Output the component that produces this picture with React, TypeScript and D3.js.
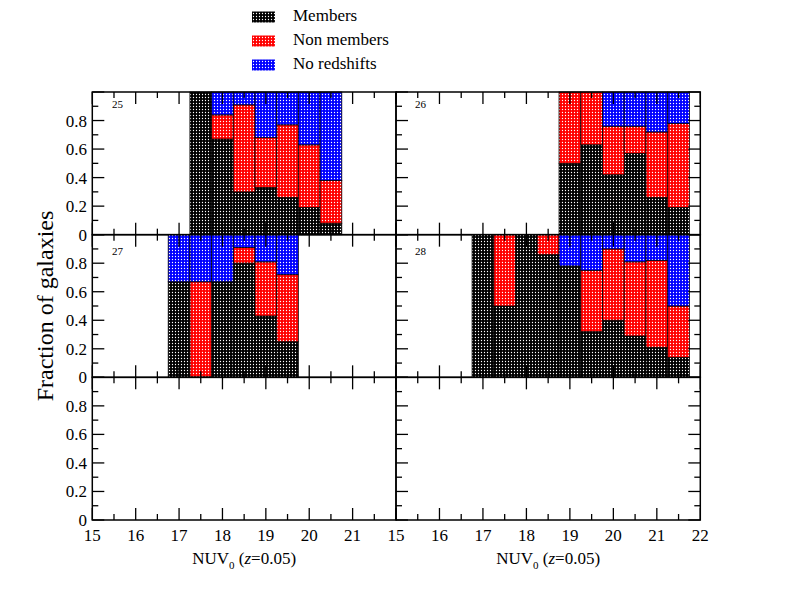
import React from 'react';
import * as d3 from 'd3';

// ---- data ----
const binWidth = 0.5;
const xTickValues = [15, 16, 17, 18, 19, 20, 21, 22];
const yTickLabels = [0, 0.2, 0.4, 0.6, 0.8];

const p25Mag = [17.5, 18, 18.5, 19, 19.5, 20, 20.5];
const p25Members = [1.0, 0.67, 0.3, 0.33, 0.26, 0.19, 0.08];
const p25Non = [0, 0.17, 0.61, 0.35, 0.51, 0.44, 0.3];
const p25NoZ = [0, 0.16, 0.09, 0.32, 0.23, 0.37, 0.62];

const p26Mag = [19, 19.5, 20, 20.5, 21, 21.5];
const p26Members = [0.5, 0.63, 0.42, 0.57, 0.26, 0.19];
const p26Non = [0.5, 0.37, 0.34, 0.19, 0.46, 0.59];
const p26NoZ = [0, 0, 0.24, 0.24, 0.28, 0.22];

const p27Mag = [17, 17.5, 18, 18.5, 19, 19.5];
const p27Members = [0.67, 0, 0.67, 0.8, 0.43, 0.25];
const p27Non = [0, 0.67, 0, 0.11, 0.38, 0.47];
const p27NoZ = [0.33, 0.33, 0.33, 0.09, 0.19, 0.28];

const p28Mag = [17, 17.5, 18, 18.5, 19, 19.5, 20, 20.5, 21, 21.5];
const p28Members = [1.0, 0.5, 1.0, 0.86, 0.78, 0.32, 0.4, 0.29, 0.21, 0.14];
const p28Non = [0, 0.5, 0, 0.14, 0, 0.43, 0.5, 0.52, 0.61, 0.36];
const p28NoZ = [0, 0, 0, 0, 0.22, 0.25, 0.1, 0.19, 0.18, 0.5];

const legendLabels = ['Members', 'Non members', 'No redshifts'];
const seriesKeys = ['members', 'non', 'noz'];
const baseColors = ['#000000', '#ff0000', '#0000ff'];

// ---- layout ----
const W = 792;
const H = 612;
const colX = [
  [92.3, 396],
  [396, 700.3],
];
const rowTop = 92;
const rowH = (520 - 92) / 3;
const font = '"Liberation Serif", "Times New Roman", serif';

type Panel = {
  label: string;
  row: number;
  col: number;
  mag: number[];
  members: number[];
  non: number[];
  noz: number[];
};

const panels: Panel[] = [
  { label: '25', row: 0, col: 0, mag: p25Mag, members: p25Members, non: p25Non, noz: p25NoZ },
  { label: '26', row: 0, col: 1, mag: p26Mag, members: p26Members, non: p26Non, noz: p26NoZ },
  { label: '27', row: 1, col: 0, mag: p27Mag, members: p27Members, non: p27Non, noz: p27NoZ },
  { label: '28', row: 1, col: 1, mag: p28Mag, members: p28Members, non: p28Non, noz: p28NoZ },
  { label: '', row: 2, col: 0, mag: [], members: [], non: [], noz: [] },
  { label: '', row: 2, col: 1, mag: [], members: [], non: [], noz: [] },
];

const labelBaseline = [108, 255, 398];

function PanelView({ p }: { p: Panel }) {
  const x = d3.scaleLinear().domain([15, 22]).range(colX[p.col]);
  const top = rowTop + p.row * rowH;
  const bottom = top + rowH;
  const y = d3.scaleLinear().domain([0, 1]).range([bottom, top]);
  const rows = p.mag.map((m, i) => ({ mag: m, members: p.members[i], non: p.non[i], noz: p.noz[i] }));
  const stacked = d3.stack<any>().keys(seriesKeys)(rows);
  const xMinor = d3.range(15, 22.001, 0.5);
  const yMinor = d3.range(0, 1.001, 0.1);
  const left = x(15);
  const right = x(22);
  const ticks: any[] = [];
  xMinor.forEach((v, i) => {
    const len = Math.abs(v - Math.round(v)) < 1e-6 ? 12 : 6;
    const xx = x(v);
    ticks.push(<line key={'b' + i} x1={xx} x2={xx} y1={bottom} y2={bottom - len} />);
    ticks.push(<line key={'t' + i} x1={xx} x2={xx} y1={top} y2={top + len} />);
  });
  yMinor.forEach((v, i) => {
    const major = Math.round(v * 10) % 2 === 0;
    const len = major ? 12 : 6;
    const yy = y(v);
    ticks.push(<line key={'l' + i} x1={left} x2={left + len} y1={yy} y2={yy} />);
    if (p.col === 1) ticks.push(<line key={'r' + i} x1={right} x2={right - len} y1={yy} y2={yy} />);
  });
  return (
    <g>
      {stacked.map((s, si) => (
        <g key={si}>
          {s.map((d: any, di: number) => {
            const h = y(d[0]) - y(d[1]);
            if (h < 0.01) return null;
            const x0 = x(d.data.mag - binWidth / 2);
            const x1 = x(d.data.mag + binWidth / 2);
            return (
              <g key={di}>
                <rect x={x0} y={y(d[1])} width={x1 - x0} height={h} fill={baseColors[si]} />
                <rect x={x0} y={y(d[1])} width={x1 - x0} height={h} fill="url(#dots)" />
                <rect
                  x={x0}
                  y={y(d[1])}
                  width={x1 - x0}
                  height={h}
                  fill="none"
                  stroke="#000"
                  strokeWidth={0.9}
                  strokeOpacity={0.85}
                />
              </g>
            );
          })}
        </g>
      ))}
      <g stroke="#000" strokeWidth={1.3}>{ticks}</g>
      <rect x={left} y={top} width={right - left} height={rowH} fill="none" stroke="#000" strokeWidth={1.5} />
      {p.label && (
        <text x={p.col === 0 ? 112 : 415} y={labelBaseline[p.row]} fontSize={11} fontFamily={font}>
          {p.label}
        </text>
      )}
      {p.col === 0 &&
        yTickLabels.map((v) => (
          <text key={v} x={87} y={y(v) + 6} textAnchor="end" fontSize={17} fontFamily={font}>
            {v === 0 ? '0' : v.toFixed(1)}
          </text>
        ))}
      {p.row === 2 &&
        xTickValues
          .filter((v) => p.col === 1 || v < 22)
          .map((v) => (
            <text key={v} x={x(v)} y={541} textAnchor="middle" fontSize={17} fontFamily={font}>
              {v}
            </text>
          ))}
      {p.row === 2 && (
        <text x={(left + right) / 2} y={564} textAnchor="middle" fontSize={17} fontFamily={font}>
          NUV
          <tspan fontSize={11} dy={5}>0</tspan>
          <tspan dy={-5}> (</tspan>
          <tspan fontStyle="italic">z</tspan>
          <tspan>=0.05)</tspan>
        </text>
      )}
    </g>
  );
}

export default function App() {
  return (
    <svg
      width={W}
      height={H}
      viewBox={`0 0 ${W} ${H}`}
      style={{ position: 'absolute', left: 0, top: 0, background: '#fff' }}
    >
      <defs>
        <pattern id="dots" x={0} y={0} width={3} height={3} patternUnits="userSpaceOnUse">
          <circle cx={1.5} cy={1.5} r={0.65} fill="#ffffff" />
        </pattern>
      </defs>
      <rect width={W} height={H} fill="#fff" />
      {panels.map((p, i) => (
        <PanelView key={i} p={p} />
      ))}
      {legendLabels.map((l, i) => (
        <g key={l}>
          <rect x={252} y={11.5 + i * 24} width={23} height={11} fill={baseColors[i]} />
          <rect x={252} y={11.5 + i * 24} width={23} height={11} fill="url(#dots)" />
          <text x={293} y={21 + i * 24} fontSize={17} fontFamily={font}>
            {l}
          </text>
        </g>
      ))}
      <text transform={`translate(53,306) rotate(-90)`} textAnchor="middle" fontSize={24} fontFamily={font}>
        Fraction of galaxies
      </text>
    </svg>
  );
}
